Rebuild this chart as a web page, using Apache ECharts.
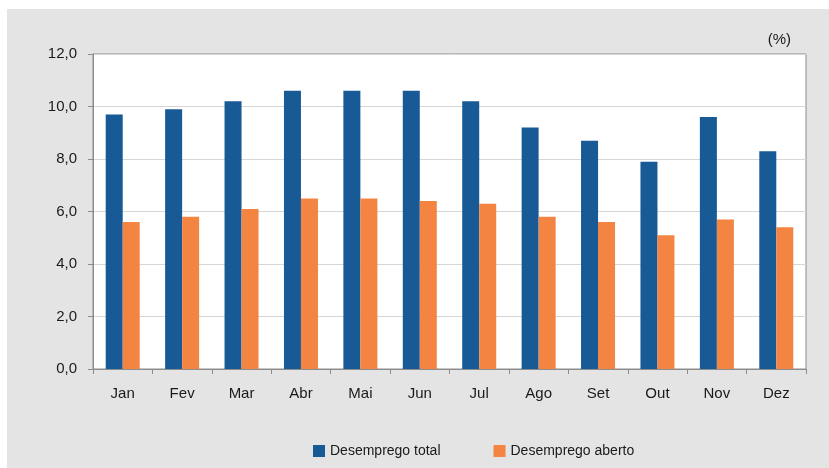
<!DOCTYPE html>
<html>
<head>
<meta charset="utf-8">
<script src="https://cdn.jsdelivr.net/npm/echarts@6/dist/echarts.min.js"></script>
<style>
  html, body { margin: 0; padding: 0; background: #ffffff; }
  #chart { position: absolute; left: 7px; top: 9px; width: 822px; height: 459px; background: #e4e4e4; }
</style>
</head>
<body>
<div id="chart"></div>
<script>
var months = ['Jan', 'Fev', 'Mar', 'Abr', 'Mai', 'Jun', 'Jul', 'Ago', 'Set', 'Out', 'Nov', 'Dez'];
var desempregoTotal = [9.7, 9.9, 10.2, 10.6, 10.6, 10.6, 10.2, 9.2, 8.7, 7.9, 9.6, 8.3];
var desempregoAberto = [5.6, 5.8, 6.1, 6.5, 6.5, 6.4, 6.3, 5.8, 5.6, 5.1, 5.7, 5.4];

var chart = echarts.init(document.getElementById('chart'));
var font = 'Liberation Sans, Arial, sans-serif';

chart.setOption({
  animation: false,
  textStyle: { fontFamily: font },
  grid: {
    left: 86, right: 23, top: 45, bottom: 99,
    show: true, backgroundColor: '#ffffff', borderColor: '#8c8c8c', borderWidth: 1
  },
  graphic: [{
    type: 'text', right: 38, top: 23,
    style: { text: '(%)', font: '15px ' + font, fill: '#1a1a1a' }
  }],
  legend: {
    top: 430, left: 301,
    itemWidth: 12, itemHeight: 12, itemGap: 53,
    icon: 'rect',
    textStyle: { fontSize: 14, color: '#1a1a1a', fontFamily: font },
    data: ['Desemprego total', 'Desemprego aberto']
  },
  xAxis: {
    type: 'category',
    data: months,
    axisLine: { lineStyle: { color: '#8c8c8c' } },
    axisTick: { show: true, length: 5, lineStyle: { color: '#8c8c8c' } },
    axisLabel: { color: '#1a1a1a', fontSize: 15, margin: 17 }
  },
  yAxis: {
    type: 'value', min: 0, max: 12, interval: 2,
    axisLine: { show: true, lineStyle: { color: '#8c8c8c' } },
    axisTick: { show: true, length: 5, lineStyle: { color: '#8c8c8c' } },
    axisLabel: {
      color: '#1a1a1a', fontSize: 15, margin: 16,
      formatter: function (v) { return v.toFixed(1).replace('.', ','); }
    },
    splitLine: { lineStyle: { color: '#d6d6d6' } }
  },
  series: [
    {
      name: 'Desemprego total', type: 'bar', data: desempregoTotal,
      barWidth: 17, barGap: '0%',
      itemStyle: { color: '#175a96' }
    },
    {
      name: 'Desemprego aberto', type: 'bar', data: desempregoAberto,
      barWidth: 17,
      itemStyle: { color: '#f38441' }
    }
  ]
});
</script>
</body>
</html>
